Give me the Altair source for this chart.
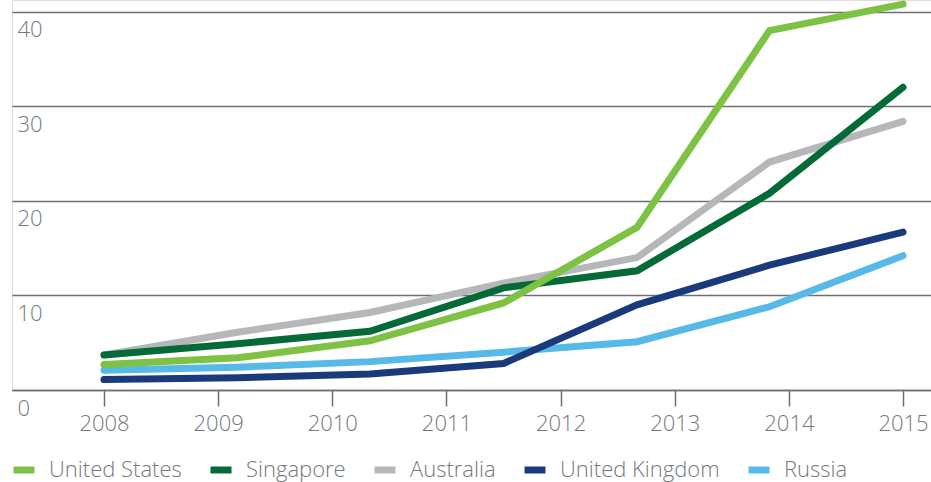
import altair as alt
import pandas as pd

x_points = [2008, 2009.17, 2010.33, 2011.5, 2012.67, 2013.83, 2015]
united_states = [2.7, 3.4, 5.2, 9.2, 17.2, 38.0, 40.8]
singapore = [3.7, 4.9, 6.2, 10.8, 12.6, 20.8, 32.0]
australia = [3.7, 6.1, 8.2, 11.3, 14.0, 24.1, 28.4]
united_kingdom = [1.1, 1.3, 1.7, 2.8, 9.0, 13.2, 16.7]
russia = [2.1, 2.4, 3.0, 4.0, 5.1, 8.8, 14.2]

tick_years = [2008, 2009, 2010, 2011, 2012, 2013, 2014, 2015]
y_ticks = [0, 10, 20, 30, 40]

legend_order = ["United States", "Singapore", "Australia", "United Kingdom", "Russia"]
colors = ["#7dc243", "#046a38", "#b5b7b8", "#1b3a7c", "#56b9e8"]

# draw order: later rows on top
series = [
    ("Russia", russia),
    ("United Kingdom", united_kingdom),
    ("Australia", australia),
    ("Singapore", singapore),
    ("United States", united_states),
]
rows = []
for name, vals in series:
    for xv, v in zip(x_points, vals):
        rows.append({"country": name, "year": xv, "value": v})
df = pd.DataFrame(rows)

GRAY = "#75787b"
LINE = "#6d6f73"

chart = alt.Chart(df).mark_line(strokeWidth=7, strokeCap="round", strokeJoin="miter").encode(
    x=alt.X("year:Q",
            scale=alt.Scale(domain=[2007.194, 2015.245], nice=False, zero=False),
            axis=alt.Axis(values=tick_years, format="d", title=None, grid=False,
                          domain=True, domainColor=LINE, domainWidth=1.5,
                          ticks=True, tickSize=16, tickColor=LINE, tickWidth=1.5,
                          labelPadding=7, labelFontSize=22, labelColor=GRAY,
                          labelFont="Open Sans", labelFontWeight=300)),
    y=alt.Y("value:Q",
            scale=alt.Scale(domain=[0, 41.23], nice=False),
            axis=alt.Axis(values=y_ticks, title=None, grid=True, gridColor=LINE,
                          gridWidth=1.5, domain=False, ticks=False, tickSize=0,
                          labelPadding=-5, labelAlign="left", labelBaseline="alphabetic",
                          labelOffset=25, labelFontSize=22, labelColor=GRAY,
                          labelFont="Open Sans", labelFontWeight=300)),
    color=alt.Color("country:N",
                    scale=alt.Scale(domain=legend_order, range=colors),
                    legend=alt.Legend(title=None, orient="none", legendX=-2, legendY=456,
                                      direction="horizontal", columns=5,
                                      symbolType="stroke", symbolSize=441,
                                      symbolStrokeWidth=7, labelOffset=11,
                                      columnPadding=14, padding=0,
                                      labelFontSize=22, labelColor=GRAY,
                                      labelFont="Open Sans", labelFontWeight=300)),
    detail="country:N",
).properties(
    width=919,
    height=390,
    autosize=alt.AutoSizeParams(type="none"),
    padding={"left": 12, "top": 0, "right": 0, "bottom": 92},
).configure_view(stroke=None).configure(font="Open Sans")

chart.save("out.html", embed_options={"renderer": "svg", "actions": False})
